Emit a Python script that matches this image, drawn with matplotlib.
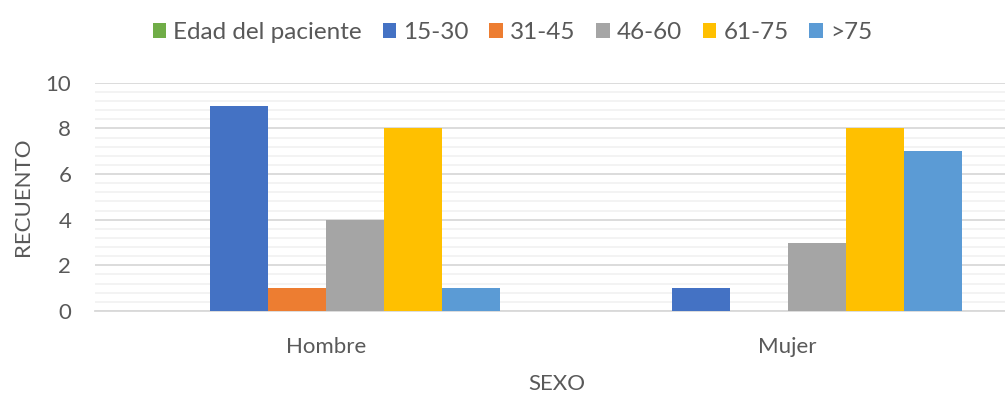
import numpy as np
from matplotlib import pyplot as plt
from matplotlib.ticker import MultipleLocator

categorias = ['Hombre', 'Mujer']
series = ['Edad del paciente', '15-30', '31-45', '46-60', '61-75', '>75']
valores = {
    'Edad del paciente': [0, 0],
    '15-30': [9, 1],
    '31-45': [1, 0],
    '46-60': [4, 3],
    '61-75': [8, 8],
    '>75': [1, 7],
}
colores = ['#70ad47', '#4472c4', '#ed7d31', '#a5a5a5', '#ffc000', '#5b9bd5']

plt.rcParams['font.family'] = ['Lato', 'DejaVu Sans']
gris = '#595959'

fig = plt.figure(figsize=(10.05, 3.94), dpi=100)
# plot area runs a little past the right edge of the figure
ax = fig.add_axes([0.0945, 0.2107, 0.919, 0.579])

x = np.arange(len(categorias))
ancho = 0.1255
for i, (nombre, color) in enumerate(zip(series, colores)):
    off = (i - (len(series) - 1) / 2) * ancho
    ax.bar(x + off, valores[nombre], ancho, color=color, label=nombre, zorder=3)

ax.set_xlim(-0.5, 1.5)
ax.set_ylim(0, 10)
ax.yaxis.set_major_locator(MultipleLocator(2))
ax.yaxis.set_minor_locator(MultipleLocator(0.4))
ax.grid(axis='y', which='major', color='#d9d9d9', linewidth=1.3, zorder=0)
ax.grid(axis='y', which='minor', color='#f2f2f2', linewidth=1.3, zorder=0)
ax.set_xticks(x)
ax.set_xticklabels(categorias)
ax.tick_params(axis='both', which='both', length=0, labelsize=16, colors=gris)
ax.tick_params(axis='x', pad=19)
ax.tick_params(axis='y', pad=17)
for s in ['top', 'right', 'left']:
    ax.spines[s].set_visible(False)
ax.spines['bottom'].set_color('#d9d9d9')
ax.spines['bottom'].set_linewidth(1.3)

ax.set_xlabel('SEXO', fontsize=16, color=gris, labelpad=12)
ax.set_ylabel('RECUENTO', fontsize=16, color=gris, labelpad=9)

fig.legend(loc='upper center', bbox_to_anchor=(0.51, 1.0), ncol=6, frameon=False,
           fontsize=17.5, handlelength=0.55, handleheight=0.55, handletextpad=0.3,
           columnspacing=0.85, labelcolor=gris)

plt.savefig('out.png', dpi=100)
